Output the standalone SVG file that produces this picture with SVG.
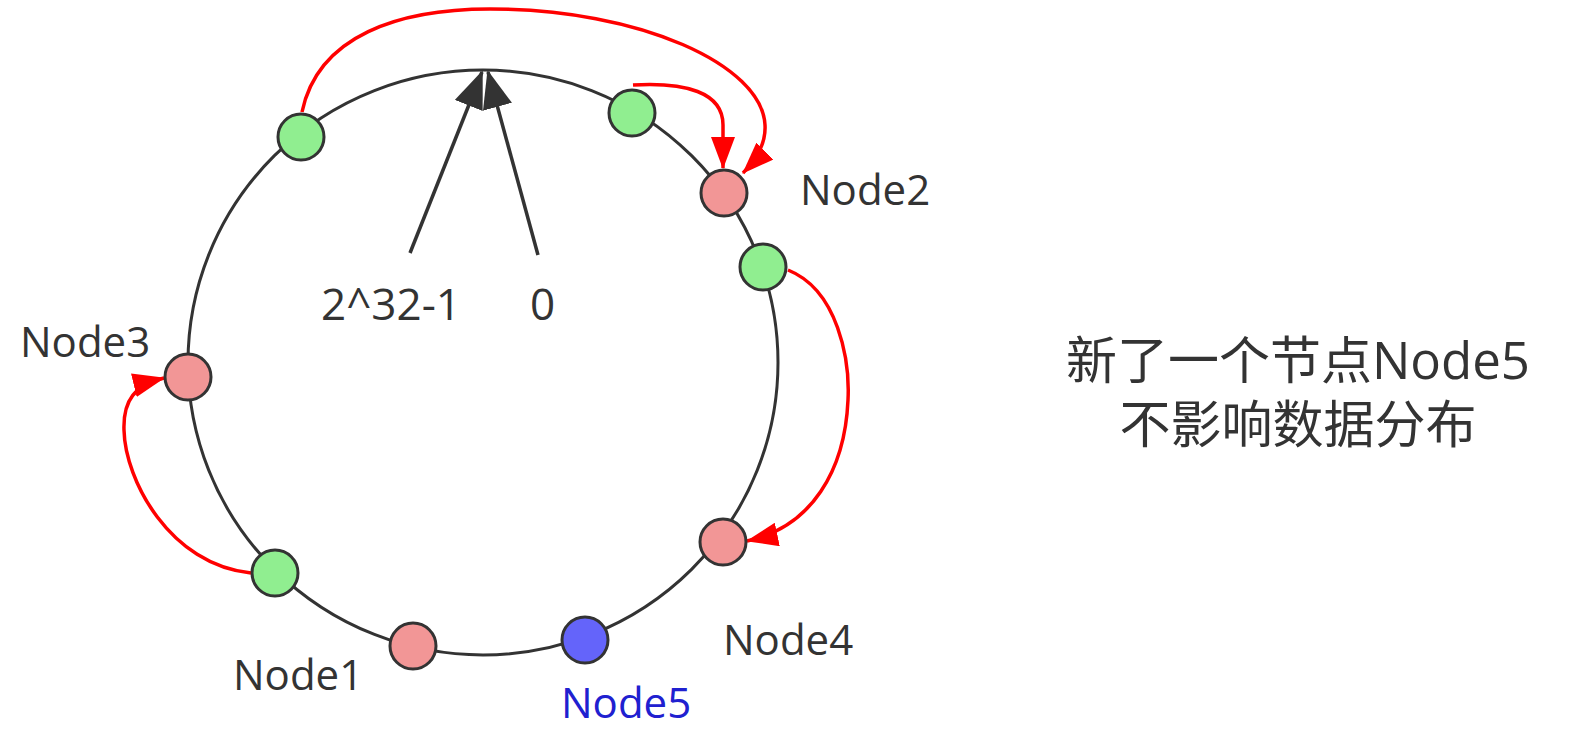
<svg xmlns="http://www.w3.org/2000/svg" width="1570" height="744" viewBox="0 0 1570 744">
<style>
.ring{fill:none;stroke:#333;stroke-width:3}
.ptr{fill:none;stroke:#333;stroke-width:3.5}
.red{fill:none;stroke:#ff0000;stroke-width:3.5}
.n{stroke:#333;stroke-width:3}
.g{fill:#90ee90}
.p{fill:#f29696}
.b{fill:#6464fa}
.lbl{font-family:"Open Sans","Liberation Sans",sans-serif;font-size:42px;fill:#333}
.num{font-family:"Open Sans","Liberation Sans",sans-serif;font-size:44px;fill:#333}
.cjk{font-family:"Open Sans","Noto Sans CJK SC",sans-serif;font-size:51px;fill:#333;text-anchor:middle}
</style>
<defs>
<marker id="ra" markerUnits="userSpaceOnUse" markerWidth="32" markerHeight="24" refX="31" refY="12" orient="auto" viewBox="0 0 32 24">
<path d="M0,0 L32,12 L0,24 z" fill="#ff0000"/>
</marker>
<marker id="ba" markerUnits="userSpaceOnUse" markerWidth="38" markerHeight="30" refX="36" refY="15" orient="auto" viewBox="0 0 38 30">
<path d="M0,0 L38,15 L0,30 z" fill="#333"/>
</marker>
</defs>
<rect width="1570" height="744" fill="#fff"/>
<g id="ring">
<ellipse class="ring" cx="483" cy="362.5" rx="295" ry="292.5"/>
</g>
<g id="connectors">
<path class="ptr" d="M410,253 L482,72" marker-end="url(#ba)"/>
<path class="ptr" d="M538,255 L488,72" marker-end="url(#ba)"/>
<path class="red" d="M302,112 C318,35 400,9 490,9 C640,9 762,65 765,125 C766,142 758,158 743,173" marker-end="url(#ra)"/>
<path class="red" d="M633,85 C685,82 723,92 723,125 L723,168" marker-end="url(#ra)"/>
<path class="red" d="M788,270 C838,290 850,360 848,400 C845,470 812,527 747,541" marker-end="url(#ra)"/>
<path class="red" d="M251,573 C170,565 125,480 124,430 C123,400 135,385 164,378" marker-end="url(#ra)"/>
</g>
<g id="v1"><circle class="n g" cx="301" cy="137" r="23"/></g>
<g id="v2"><circle class="n g" cx="632" cy="113" r="23"/></g>
<g id="node2"><circle class="n p" cx="724" cy="193" r="23"/><text class="lbl" x="800" y="205">Node2</text></g>
<g id="v3"><circle class="n g" cx="763" cy="267" r="23"/></g>
<g id="node4"><circle class="n p" cx="723" cy="542" r="23"/><text class="lbl" x="723" y="655">Node4</text></g>
<g id="node5"><circle class="n b" cx="585" cy="640" r="23"/><text class="lbl" x="561" y="718" style="fill:#2020d0">Node5</text></g>
<g id="node1"><circle class="n p" cx="413" cy="646" r="23"/><text class="lbl" x="233" y="690">Node1</text></g>
<g id="v4"><circle class="n g" cx="275" cy="573" r="23"/></g>
<g id="node3"><circle class="n p" cx="188" cy="377" r="23"/><text class="lbl" x="20" y="357">Node3</text></g>
<g id="labels">
<text class="num" x="321" y="320">2^32-1</text>
<text class="num" x="530" y="320">0</text>
<text class="cjk" x="1298" y="379">新了一个节点Node5</text>
<text class="cjk" x="1298" y="443">不影响数据分布</text>
</g>
</svg>
